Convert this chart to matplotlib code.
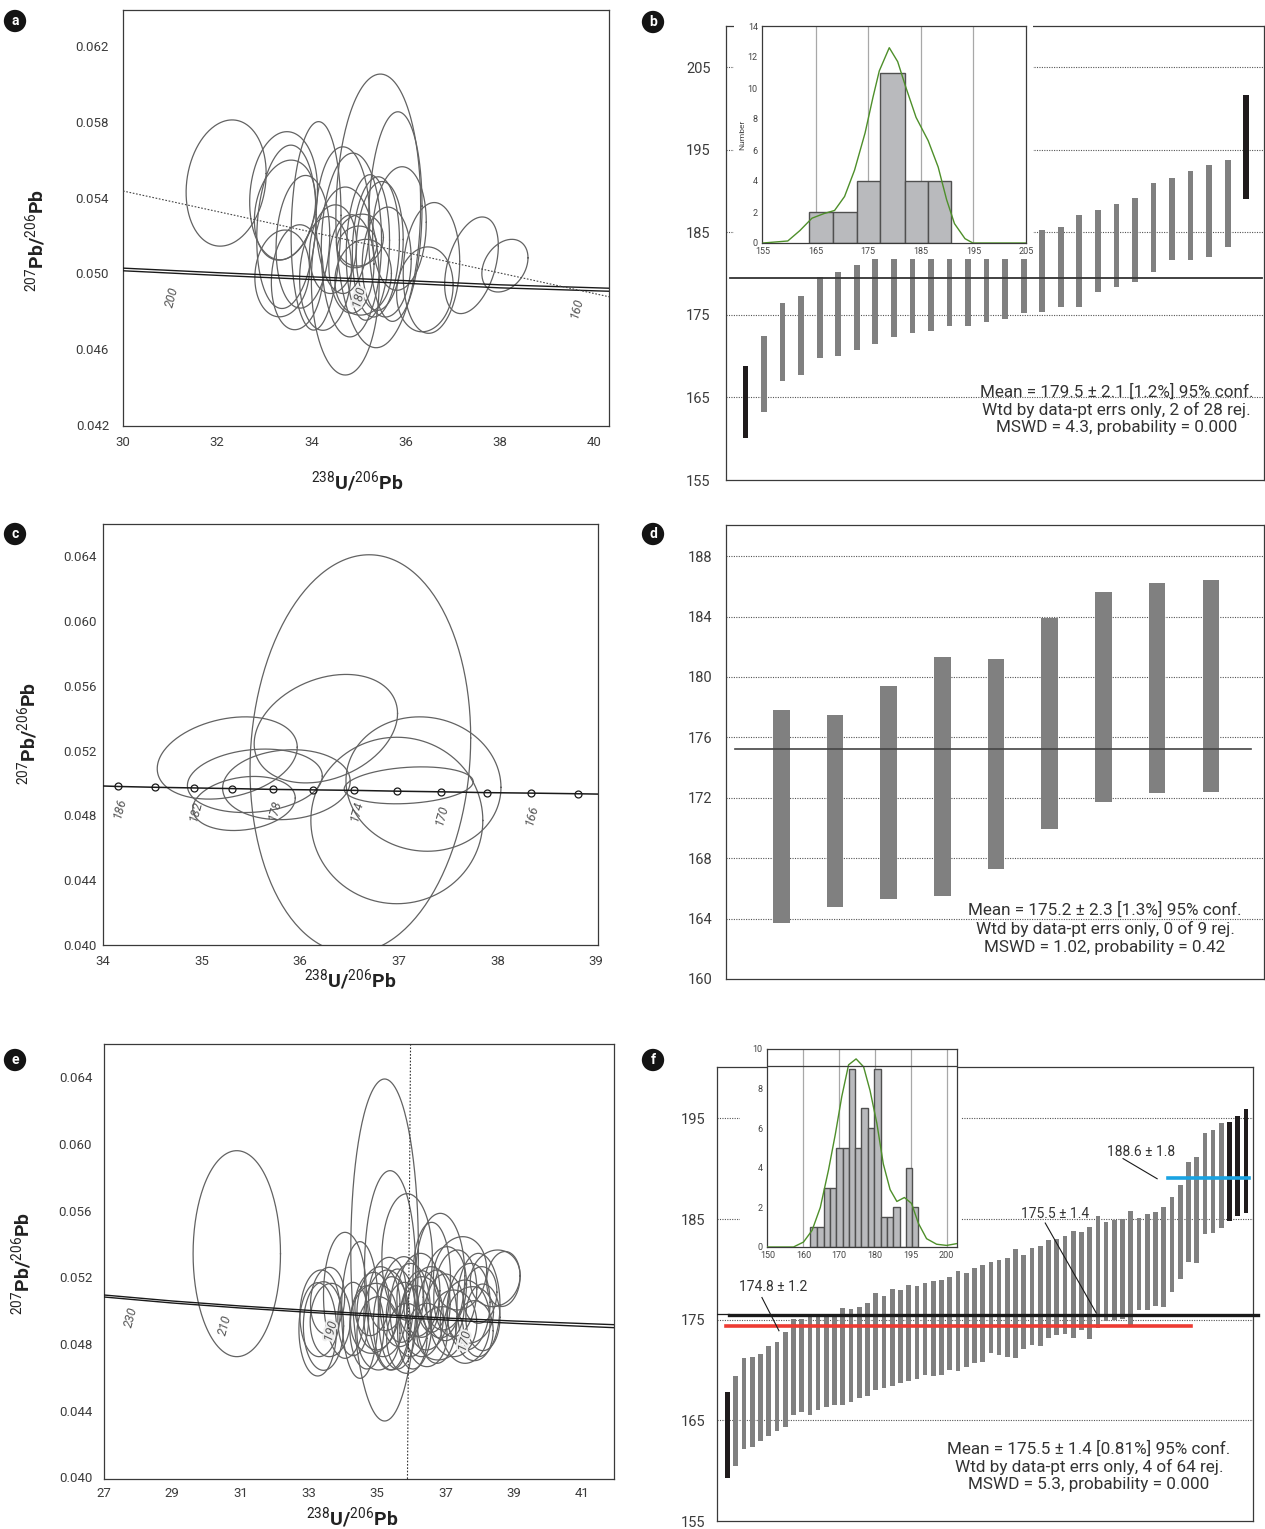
import numpy as np
import matplotlib
matplotlib.use("Agg")
import matplotlib.pyplot as plt
from matplotlib.patches import Rectangle
from matplotlib.ticker import FormatStrFormatter
import matplotlib.patheffects as pe

plt.rcParams['font.family'] = ['Roboto', 'DejaVu Sans']
plt.rcParams['mathtext.fontset'] = 'custom'
plt.rcParams['mathtext.rm'] = 'Roboto'
plt.rcParams['mathtext.it'] = 'Roboto:italic'
plt.rcParams['mathtext.bf'] = 'Roboto:bold'

# ---------------- data ----------------
# panel a : ellipses (centre x, centre y, half-width x, half-height y, rho)
a_cx = [32.19, 33.41, 33.47, 33.44, 34.10, 33.82, 33.70, 33.38, 35.42, 34.72,
        35.78, 34.67, 34.85, 35.20, 35.37, 35.87, 34.46, 35.03, 34.97, 35.45,
        36.55, 36.41, 37.40, 38.11, 34.30, 35.10, 34.85, 35.60]
a_cy = [0.05477, 0.05410, 0.05246, 0.05334, 0.05251, 0.05167, 0.04980, 0.05000, 0.05330, 0.04960,
        0.05300, 0.05281, 0.05150, 0.05137, 0.05140, 0.05237, 0.05128, 0.05176, 0.05140, 0.05145,
        0.05029, 0.04916, 0.05043, 0.05041, 0.05000, 0.04980, 0.05050, 0.05060]
a_sx = [0.85, 0.72, 0.63, 0.65, 0.53, 0.57, 0.55, 0.58, 0.90, 0.72,
        0.57, 0.57, 0.64, 0.46, 0.50, 0.57, 0.50, 0.50, 0.42, 0.50,
        0.60, 0.60, 0.57, 0.49, 0.55, 0.60, 0.48, 0.52]
a_sy = [0.00333, 0.00338, 0.00431, 0.00264, 0.00550, 0.00350, 0.00277, 0.00229, 0.00722, 0.00496,
        0.00553, 0.00387, 0.00485, 0.00384, 0.00370, 0.00326, 0.00234, 0.00137, 0.00110, 0.00340,
        0.00345, 0.00224, 0.00255, 0.00139, 0.00300, 0.00200, 0.00260, 0.00290]
a_rho = [0.15, 0.10, 0.15, 0.20, 0.10, 0.10, 0.10, 0.10, 0.05, 0.0,
         0.10, 0.0, 0.05, 0.10, 0.10, 0.10, 0.10, 0.10, 0.10, 0.10,
         0.10, 0.10, 0.40, 0.30, 0.10, 0.10, 0.0, 0.05]
a_conc_x = [30, 32, 34, 36, 38, 40.32]
a_conc_up = [0.05028, 0.05004, 0.04982, 0.04962, 0.04940, 0.04922]
a_conc_lo = [0.05014, 0.04990, 0.04968, 0.04948, 0.04924, 0.04906]
a_reg_x = [30, 40.32]
a_reg_y = [0.05435, 0.04877]
a_lab = ['200', '180', '160']
a_lab_x = [31.05, 35.01, 39.63]
a_lab_y = [0.04877, 0.04870, 0.04817]

# panel b : weighted mean bars
b_hi = [168.8, 172.4, 176.4, 177.3, 179.6, 180.2, 181.1, 182.0, 182.5, 183.0, 183.3, 183.6, 184.0, 184.3,
        184.6, 185.0, 185.3, 185.6, 187.1, 187.7, 188.4, 189.2, 191.0, 191.6, 192.4, 193.2, 193.8, 201.7]
b_lo = [160.1, 163.2, 167.0, 167.7, 169.8, 170.0, 170.7, 171.5, 172.3, 172.8, 173.1, 173.6, 173.6, 174.2,
        174.5, 175.2, 175.4, 175.9, 176.0, 177.8, 178.4, 179.0, 180.2, 181.6, 181.6, 182.0, 183.2, 189.0]
b_rej = [1, 28]
b_mean = 179.5
b_edges = [163.8, 168.3, 172.9, 177.3, 181.9, 186.4, 190.8]
b_counts = [2, 2, 4, 11, 4, 4]
b_kde_x = [155, 159.7, 162, 164.3, 166.6, 168.6, 170.5, 172.4, 174.4, 175.9, 177.1, 179.0, 180.6,
           182.1, 184.1, 186.4, 188.3, 189.9, 191.4, 193.4, 194.9, 205]
b_kde_y = [0, 0.13, 0.8, 1.6, 1.9, 2.1, 3.0, 4.7, 7.1, 9.4, 11.1, 12.6, 11.7,
           10.1, 8.1, 6.6, 4.9, 2.8, 1.25, 0.28, 0, 0]
b_text = ["Mean = 179.5 ± 2.1 [1.2%] 95% conf.",
          "Wtd by data-pt errs only, 2 of 28 rej.",
          "MSWD = 4.3, probability = 0.000"]

# panel c
c_cx = [35.26, 35.54, 35.43, 35.86, 36.26, 36.61, 37.25, 36.98, 37.10]
c_cy = [0.05155, 0.05014, 0.04874, 0.04990, 0.05336, 0.05180, 0.04994, 0.04769, 0.04986]
c_sx = [0.71, 0.684, 0.52, 0.647, 0.727, 1.119, 0.786, 0.872, 0.654]
c_sy = [0.00254, 0.00196, 0.00167, 0.00216, 0.00335, 0.01230, 0.00415, 0.00514, 0.00114]
c_rho = [0.26, 0.15, 0.20, 0.10, 0.28, 0.08, -0.05, 0.0, 0.20]
c_conc_x = [34.0, 34.155, 34.53, 34.92, 35.31, 35.72, 36.13, 36.55, 36.98, 37.43, 37.89, 38.34, 38.82, 39.02]
c_conc_y = [0.04982, 0.04979, 0.04974, 0.04970, 0.04966, 0.04961, 0.04958, 0.04955, 0.04950,
            0.04946, 0.04941, 0.04938, 0.04934, 0.04932]
c_lab = ['186', '182', '178', '174', '170', '166']
c_lab_x = [34.17, 34.94, 35.74, 36.57, 37.44, 38.35]
c_lab_y = [0.04845, 0.04825, 0.04835, 0.04825, 0.04804, 0.04804]

# panel d
d_hi = [177.8, 177.5, 179.4, 181.3, 181.2, 183.9, 185.6, 186.2, 186.4]
d_lo = [163.7, 164.8, 165.3, 165.5, 167.3, 169.95, 171.7, 172.3, 172.4]
d_mean = 175.2
d_text = ["Mean = 175.2 ± 2.3 [1.3%] 95% conf.",
          "Wtd by data-pt errs only, 0 of 9 rej.",
          "MSWD = 1.02, probability = 0.42"]

# panel e
e_cx = [30.89, 35.22, 35.38, 35.88, 36.85, 34.06, 33.26, 33.33, 33.43, 33.63,
        34.50, 33.55, 35.04, 35.24, 35.43, 34.90, 35.72, 35.97, 36.21, 36.31,
        36.51, 36.75, 35.04, 35.87, 36.46, 36.85, 35.60, 36.10, 35.30, 34.70,
        37.29, 37.68, 37.97, 38.46, 38.70, 38.02, 37.58, 37.24, 37.73, 37.43,
        36.99, 38.10, 36.60, 37.00, 34.30, 35.75, 36.30, 34.85, 37.85]
e_cy = [0.05342, 0.05364, 0.05242, 0.05322, 0.05210, 0.05092, 0.04888, 0.04984, 0.04908, 0.04944,
        0.05004, 0.05060, 0.05014, 0.04984, 0.04924, 0.04954, 0.05054, 0.05004, 0.05094, 0.04964,
        0.05014, 0.04964, 0.04864, 0.04834, 0.04854, 0.04864, 0.04950, 0.04900, 0.05100, 0.04900,
        0.05104, 0.05024, 0.05034, 0.05194, 0.05190, 0.05094, 0.04934, 0.04924, 0.04974, 0.05224,
        0.05134, 0.04960, 0.05200, 0.05020, 0.04950, 0.04990, 0.05040, 0.05040, 0.04880]
e_sx = [1.28, 0.99, 0.75, 0.74, 0.72, 0.63, 0.55, 0.59, 0.59, 0.59,
        0.54, 0.50, 0.63, 0.63, 0.54, 0.68, 0.63, 0.59, 0.63, 0.63,
        0.63, 0.59, 0.63, 0.59, 0.59, 0.68, 0.55, 0.50, 0.55, 0.50,
        0.63, 0.63, 0.63, 0.73, 0.49, 0.49, 0.73, 0.68, 0.68, 0.78,
        0.63, 0.50, 0.55, 0.55, 0.45, 0.48, 0.52, 0.50, 0.55]
e_sy = [0.00618, 0.01026, 0.00598, 0.00380, 0.00374, 0.00378, 0.00280, 0.00260, 0.00266, 0.00220,
        0.00410, 0.00200, 0.00250, 0.00260, 0.00280, 0.00210, 0.00270, 0.00280, 0.00250, 0.00240,
        0.00250, 0.00280, 0.00220, 0.00210, 0.00190, 0.00160, 0.00300, 0.00250, 0.00220, 0.00250,
        0.00260, 0.00260, 0.00310, 0.00170, 0.00165, 0.00170, 0.00250, 0.00200, 0.00170, 0.00220,
        0.00250, 0.00200, 0.00330, 0.00200, 0.00220, 0.00180, 0.00200, 0.00190, 0.00180]
e_rho = [0.0, 0.0, 0.0, 0.0, 0.0, 0.0, 0.0, 0.05, 0.0, 0.05,
         0.0, 0.10, 0.10, 0.10, 0.0, 0.10, 0.10, 0.0, 0.10, 0.0,
         0.10, 0.0, 0.0, 0.0, 0.0, 0.10, 0.0, 0.10, 0.10, 0.0,
         0.10, 0.10, 0.0, 0.10, 0.10, 0.10, 0.0, 0.0, 0.10, 0.10,
         0.10, 0.0, 0.0, 0.0, 0.0, 0.10, 0.0, 0.10, 0.0]
e_conc_x = [27, 29, 31, 33, 35, 37, 39, 41.94]
e_conc_up = [0.05094, 0.05058, 0.05028, 0.05002, 0.04978, 0.04956, 0.04938, 0.04916]
e_conc_lo = [0.05082, 0.05046, 0.05016, 0.04990, 0.04966, 0.04944, 0.04924, 0.04898]
e_vline_x = [35.98, 35.89]
e_vline_y = [0.066, 0.0399]
e_lab = ['230', '210', '190', '170']
e_lab_x = [27.79, 30.56, 33.64, 37.56]
e_lab_y = [0.04964, 0.04914, 0.04874, 0.04814]

# panel f
f_hi = [167.8, 169.4, 171.2, 171.3, 171.6, 172.4, 172.8, 173.8, 175.1, 175.1,
        175.35, 175.4, 175.4, 175.4, 176.2, 176.1, 176.3, 176.7, 177.6, 177.4,
        178.0, 177.9, 178.4, 178.3, 178.6, 178.8, 178.9, 179.2, 179.8, 179.6,
        180.1, 180.4, 180.7, 180.9, 181.1, 182.0, 181.4, 182.1, 182.3, 182.9,
        183.0, 183.3, 183.8, 183.7, 184.2, 185.3, 184.7, 184.9, 185.0, 185.8,
        185.1, 185.5, 185.7, 186.2, 187.2, 188.4, 190.7, 191.2, 193.5, 193.8,
        194.5, 194.6, 195.2, 195.9]
f_lo = [159.3, 160.5, 162.2, 162.4, 162.95, 163.4, 163.9, 164.3, 165.5, 165.8,
        165.5, 166.0, 166.3, 166.5, 166.5, 166.8, 167.2, 167.4, 168.0, 168.2,
        168.4, 168.7, 168.9, 169.1, 169.5, 169.4, 169.5, 170.0, 169.9, 170.3,
        170.7, 170.8, 171.66, 171.5, 171.3, 171.2, 172.1, 172.5, 172.4, 173.2,
        173.5, 173.6, 173.2, 174.0, 173.1, 174.2, 174.9, 175.0, 175.1, 174.4,
        176.0, 176.0, 176.4, 176.3, 177.7, 179.0, 180.7, 180.6, 183.5, 183.6,
        184.1, 184.8, 185.3, 185.6]
f_rej = [1, 62, 63, 64]
f_mean = 175.5
f_red = 174.4
f_blue = 189.1
f_edges = [161.9, 163.9, 165.6, 167.3, 169.1, 171.0, 172.7, 174.4, 176.2, 178.1, 179.7,
           181.6, 183.3, 184.9, 186.9, 188.6, 190.3, 192.1]
f_counts = [1, 1, 3, 3, 5, 5, 9, 5, 7, 6, 9, 1.5, 1.5, 2, 0, 4, 2]
f_kde_x = [150, 157.2, 160, 162.4, 164.7, 167, 168.9, 170.7, 172.6, 174.7, 176.8, 178.6,
           180.5, 182.3, 184.2, 186.1, 188.2, 190.2, 192.1, 194.4, 197.2, 200, 202.8]
f_kde_y = [0, 0, 0.25, 0.84, 2.0, 3.9, 5.7, 7.6, 9.2, 9.5, 9.1, 7.9,
           6.25, 4.2, 2.9, 2.3, 2.5, 2.2, 1.2, 0.42, 0.14, 0.08, 0.17]
f_text = ["Mean = 175.5 ± 1.4 [0.81%] 95% conf.",
          "Wtd by data-pt errs only, 4 of 64 rej.",
          "MSWD = 5.3, probability = 0.000"]

# ---------------- drawing ----------------
W, H = 1265, 1529
fig = plt.figure(figsize=(12.65, 15.29), dpi=100)


def box(l, t, r, b):
    return [l / W, 1 - b / H, (r - l) / W, (b - t) / H]


SPINE = '#3a3a3a'
ELL = '#626262'
TXT = '#333333'
GRAY = '#808080'
BLACK = '#1f1b1c'


def spines(ax):
    for s in ax.spines.values():
        s.set_color(SPINE)
        s.set_linewidth(0.9)


def draw_ellipses(ax, cx, cy, sx, sy, rho):
    t = np.linspace(0, 2 * np.pi, 241)
    for x0, y0, a, b, r in zip(cx, cy, sx, sy, rho):
        ex = x0 + a * np.cos(t)
        ey = y0 + b * (r * np.cos(t) + np.sqrt(1 - r * r) * np.sin(t))
        ax.plot(ex, ey, color=ELL, lw=0.9, zorder=2)


def conc_labels(ax, labs, xs, ys, halo=()):
    for lab, x, y in zip(labs, xs, ys):
        t = ax.text(x, y, lab, rotation=75, fontsize=9, style='italic', color='#555555',
                    ha='center', va='center', zorder=4)
        if lab in halo:
            t.set_path_effects([pe.withStroke(linewidth=3, foreground='#eeeeee')])


def conc_axes(ax, xlim, ylim, xt, yt, xpad, ypad):
    ax.set_xlim(xlim)
    ax.set_ylim(ylim)
    ax.set_xticks(xt)
    ax.set_yticks(yt)
    ax.yaxis.set_major_formatter(FormatStrFormatter('%.3f'))
    ax.tick_params(length=0, labelsize=9.5, labelcolor='#3c3c3c')
    ax.tick_params(axis='x', pad=xpad)
    ax.tick_params(axis='y', pad=ypad)
    spines(ax)


def wm_axes(ax, lo, hi, rej, width, xlim, ylim, yt, grid, ypad):
    ax.set_xlim(xlim)
    ax.set_ylim(ylim)
    ax.set_xticks([])
    ax.set_yticks(yt)
    ax.tick_params(length=0, labelsize=10.5, labelcolor='#3c3c3c', pad=ypad)
    for g in grid:
        ax.axhline(g, color='#555555', lw=0.8, ls=(0, (1, 1.2)), zorder=1)
    idx = np.arange(1, len(lo) + 1)
    cols = [BLACK if i in rej else GRAY for i in idx]
    ax.bar(idx, np.array(hi) - np.array(lo), bottom=lo, width=width, color=cols, zorder=2)
    spines(ax)


def stat_text(ax, lines, x, ys, size=12.3):
    for s, y in zip(lines, ys):
        ax.text(x, y, s, ha='center', va='center', fontsize=size, color=TXT, zorder=5)


ylab = r'$^{207}$Pb/$^{206}$Pb'
xlab = r'$^{238}$U/$^{206}$Pb'

# ---- a ----
axA = fig.add_axes(box(123, 10, 609, 426))
conc_axes(axA, (30, 40.32), (0.04195, 0.0639), np.arange(30, 41, 2),
          np.arange(0.042, 0.0621, 0.004), 7, 10)
draw_ellipses(axA, a_cx, a_cy, a_sx, a_sy, a_rho)
axA.plot(a_conc_x, a_conc_up, color='#1a1a1a', lw=1.0, zorder=3)
axA.plot(a_conc_x, a_conc_lo, color='#1a1a1a', lw=1.0, zorder=3)
axA.plot(a_reg_x, a_reg_y, color='#444444', lw=0.8, ls=(0, (1.5, 1.5)), zorder=3)
conc_labels(axA, a_lab, a_lab_x, a_lab_y, halo=('180',))

# ---- c ----
axC = fig.add_axes(box(103, 524, 598, 945))
conc_axes(axC, (34, 39.02), (0.040, 0.066), np.arange(34, 40, 1),
          np.arange(0.040, 0.0641, 0.004), 7, 4.5)
draw_ellipses(axC, c_cx, c_cy, c_sx, c_sy, c_rho)
axC.plot(c_conc_x, c_conc_y, color='#1a1a1a', lw=1.1, zorder=3)
axC.plot(c_conc_x[1:-1], c_conc_y[1:-1], 'o', ms=5, mfc='none', mec='#1a1a1a', mew=0.9, zorder=4)
conc_labels(axC, c_lab, c_lab_x, c_lab_y)

# ---- e ----
axE = fig.add_axes(box(104, 1044, 614, 1479))
conc_axes(axE, (27, 41.94), (0.0399, 0.066), np.arange(27, 42, 2),
          np.arange(0.040, 0.0641, 0.004), 5.5, 8.5)
draw_ellipses(axE, e_cx, e_cy, e_sx, e_sy, e_rho)
axE.plot(e_conc_x, e_conc_up, color='#1a1a1a', lw=1.0, zorder=3)
axE.plot(e_conc_x, e_conc_lo, color='#1a1a1a', lw=1.0, zorder=3)
axE.plot(e_vline_x, e_vline_y, color='#333333', lw=0.8, ls=(0, (1.5, 1.5)), zorder=3)
conc_labels(axE, e_lab, e_lab_x, e_lab_y, halo=('190', '170'))

for x, y in [(36, 240), (28, 733), (22, 1263)]:
    fig.text(x / W, 1 - y / H, ylab, rotation=90, fontsize=14, fontweight='bold',
             color='#222222', ha='center', va='center')
for x, y in [(357, 482), (350, 980), (352, 1518)]:
    fig.text(x / W, 1 - y / H, xlab, fontsize=14, fontweight='bold',
             color='#222222', ha='center', va='center')

# ---- b ----
axB = fig.add_axes(box(726, 26, 1264, 480))
wm_axes(axB, b_lo, b_hi, b_rej, 0.31, (-0.05, 28.96), (155, 210),
        np.arange(155, 206, 10), [205, 195, 185, 175, 165], 11)
axB.plot([0.17, 28.84], [b_mean, b_mean], color='#333333', lw=1.3, zorder=3)
stat_text(axB, b_text, 21.0, [165.7, 163.5, 161.3])
axB.add_patch(Rectangle((734 / W, 1 - 259 / H), (1033 - 734) / W, 259 / H,
                        transform=fig.transFigure, facecolor='white', edgecolor='none',
                        zorder=3, clip_on=False))

axBi = fig.add_axes(box(762, 26, 1026, 243))
axBi.set_xlim(154.8, 205)
axBi.set_ylim(0, 14)
axBi.set_xticks(np.arange(155, 206, 10))
axBi.set_yticks(np.arange(0, 15, 2))
axBi.tick_params(length=0, labelsize=6.5, labelcolor='#444444', pad=3)
for g in [165, 175, 185, 195]:
    axBi.axvline(g, color='#a8a8a8', lw=0.9, zorder=1)
axBi.bar(b_edges[:-1], b_counts, width=np.diff(b_edges), align='edge',
         color='#b9babd', edgecolor='#505050', lw=1.0, zorder=2)
axBi.plot(b_kde_x, b_kde_y, color='#4e8f2a', lw=1.0, zorder=3)
axBi.set_ylabel('Number', fontsize=6, color='#444444', labelpad=2)
spines(axBi)

# ---- d ----
axD = fig.add_axes(box(726, 525, 1264, 979))
wm_axes(axD, d_lo, d_hi, [], 0.31, (-0.03, 9.99), (160, 190.06),
        np.arange(160, 189, 4), np.arange(164, 189, 4), 9.5)
axD.plot([0.14, 9.75], [d_mean, d_mean], color='#444444', lw=1.2, zorder=3)
stat_text(axD, d_text, 7.03, [164.58, 163.3, 162.1])

# ---- f ----
axF = fig.add_axes(box(717, 1067, 1253, 1521))
wm_axes(axF, f_lo, f_hi, f_rej, 0.57, (-0.29, 64.85), (155, 200.1),
        np.arange(155, 196, 10), [195, 185, 175, 165], 8.6)
axF.add_patch(Rectangle((740 / W, 1 - 1265 / H), (961 - 740) / W, (1265 - 1067) / H,
                        transform=fig.transFigure, facecolor='white', edgecolor='none',
                        zorder=2.2, clip_on=False))
axF.plot([-0.29, 1.17], [f_mean + 0.1, f_mean + 0.1], color='#1a1a1a', lw=0.9, zorder=3)
axF.plot([1.17, 65.4], [f_mean, f_mean], color='#1a1a1a', lw=2.4, zorder=3, clip_on=False)
axF.plot([0.85, 57.3], [f_red, f_red], color='#ee3b33', lw=2.6, zorder=3)
axF.plot([54.5, 64.4], [f_blue, f_blue], color='#1aa3e2', lw=2.6, zorder=3)
for s, tx, ty, lx, ly in [('174.8 ± 1.2', 6.5, 178.2, [5.17, 7.24], [177.2, 173.9]),
                          ('175.5 ± 1.4', 40.85, 185.5, [39.6, 45.8], [184.6, 175.66]),
                          ('188.6 ± 1.8', 51.3, 191.7, [49.06, 53.2], [191.0, 189.0])]:
    axF.text(tx, ty, s, ha='center', va='center', fontsize=10, color=TXT, zorder=5)
    axF.plot(lx, ly, color='#1a1a1a', lw=0.8, zorder=4)
stat_text(axF, f_text, 44.9, [162.2, 160.4, 158.6])

axFi = fig.add_axes(box(767, 1049, 957, 1247))
axFi.set_xlim(149.8, 202.9)
axFi.set_ylim(0, 10)
axFi.set_xticks(np.arange(150, 201, 10))
axFi.set_xticklabels(['150', '160', '170', '180', '195', '200'])
axFi.set_yticks(np.arange(0, 11, 2))
axFi.tick_params(length=0, labelsize=6.5, labelcolor='#444444', pad=3)
for g in [160, 170, 180, 190, 200]:
    axFi.axvline(g, color='#a8a8a8', lw=0.9, zorder=1)
axFi.bar(f_edges[:-1], f_counts, width=np.diff(f_edges), align='edge',
         color='#b9babd', edgecolor='#505050', lw=1.0, zorder=2)
axFi.plot(f_kde_x, f_kde_y, color='#4e8f2a', lw=1.0, zorder=3)
axFi.axhline(9.12, color=SPINE, lw=0.9, zorder=4)
spines(axFi)

# ---- panel letters ----
for lab, x, y in [('a', 15, 21), ('b', 653, 22), ('c', 15, 534),
                  ('d', 653, 534), ('e', 15, 1060), ('f', 653, 1060)]:
    fig.text(x / W, 1 - y / H, lab, color='white', fontsize=10, fontweight='bold',
             ha='center', va='center',
             bbox=dict(boxstyle='circle,pad=0.3', fc='#141414', ec='none'))

fig.savefig('out.png', dpi=100)
